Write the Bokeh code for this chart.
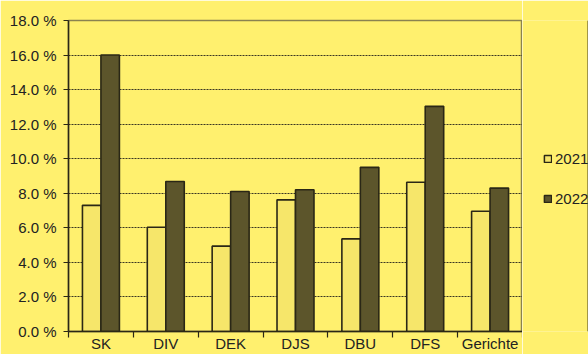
from bokeh.plotting import figure
from bokeh.layouts import row
from bokeh.models import ColumnDataSource, FixedTicker, PrintfTickFormatter, Range1d, Legend, LegendItem
from bokeh.embed import file_html
from bokeh.resources import INLINE

categories = ["SK", "DIV", "DEK", "DJS", "DBU", "DFS", "Gerichte"]
values_2021 = [7.3, 6.03, 4.94, 7.62, 5.36, 8.64, 6.96]
values_2022 = [16.0, 8.68, 8.1, 8.2, 9.5, 13.03, 8.3]
series_names = ["2021", "2022"]
y_ticks = [0, 2, 4, 6, 8, 10, 12, 14, 16, 18]

BG = "#FFF06E"
C2021 = "#F6E66A"
C2022 = "#5C552B"
EDGE = "#2A2716"
FONT = "Liberation Sans"

n = len(categories)
centers = [i + 0.5 for i in range(n)]
bw = 0.285

src = ColumnDataSource(dict(
    x1=[c - bw / 2 for c in centers],
    x2=[c + bw / 2 for c in centers],
    v1=values_2021,
    v2=values_2022,
))

p = figure(width=522, height=354, output_backend="svg", toolbar_location=None,
           x_range=Range1d(0, n), y_range=Range1d(0, 18),
           min_border_left=68, min_border_right=0, min_border_top=20, min_border_bottom=10)
p.background_fill_color = BG
p.border_fill_color = BG
p.outline_line_color = "#8A8250"
p.outline_line_width = 1.5

r1 = p.vbar(x="x1", top="v1", width=bw, bottom=0, source=src,
            fill_color=C2021, line_color=EDGE, line_width=1.6)
r2 = p.vbar(x="x2", top="v2", width=bw, bottom=0, source=src,
            fill_color=C2022, line_color=EDGE, line_width=1.6)

# y axis
p.yaxis.ticker = FixedTicker(ticks=y_ticks)
p.yaxis.formatter = PrintfTickFormatter(format="%.1f %%")
p.yaxis.axis_line_color = EDGE
p.yaxis.axis_line_width = 1.5
p.yaxis.major_tick_line_color = EDGE
p.yaxis.major_tick_out = 5
p.yaxis.major_tick_in = 0
p.yaxis.minor_tick_line_color = None
p.yaxis.major_label_standoff = 7
p.yaxis.major_label_text_font = FONT
p.yaxis.major_label_text_font_size = "15px"
p.yaxis.major_label_text_color = "#222222"

# x axis
p.xaxis.ticker = FixedTicker(ticks=centers, minor_ticks=list(range(n + 1)))
p.xaxis.major_label_overrides = {c: name for c, name in zip(centers, categories)}
p.xaxis.axis_line_color = EDGE
p.xaxis.axis_line_width = 1.5
p.xaxis.major_tick_line_color = None
p.xaxis.major_tick_out = 0
p.xaxis.major_tick_in = 0
p.xaxis.minor_tick_line_color = EDGE
p.xaxis.minor_tick_line_width = 1.2
p.xaxis.minor_tick_out = 6
p.xaxis.minor_tick_in = 0
p.xaxis.major_label_standoff = -3
p.xaxis.major_label_text_font = FONT
p.xaxis.major_label_text_font_size = "15px"
p.xaxis.major_label_text_color = "#222222"

p.xgrid.grid_line_color = None
p.ygrid.ticker = FixedTicker(ticks=y_ticks)
p.ygrid.grid_line_color = "#3A3622"
p.ygrid.grid_line_dash = "2 1"
p.ygrid.grid_line_width = 1

# legend panel
q = figure(width=66, height=354, output_backend="svg", toolbar_location=None,
           x_range=Range1d(0, 1), y_range=Range1d(0, 1),
           min_border_left=0, min_border_right=0, min_border_top=0, min_border_bottom=0)
q.axis.visible = False
q.grid.visible = False
q.outline_line_color = None
q.background_fill_color = BG
q.border_fill_color = BG
l1 = q.vbar(x=[5], top=[5], width=0.1, fill_color=C2021, line_color=EDGE, line_width=1.5)
l2 = q.vbar(x=[5], top=[5], width=0.1, fill_color=C2022, line_color=EDGE, line_width=1.5)

legend = Legend(items=[LegendItem(label=series_names[0], renderers=[l1]),
                       LegendItem(label=series_names[1], renderers=[l2])],
                location=(21, 124), orientation="vertical",
                background_fill_alpha=0, border_line_color=None,
                glyph_width=9, glyph_height=9, label_height=12, spacing=23,
                padding=0, margin=0, label_standoff=3,
                label_text_font=FONT, label_text_font_size="15px",
                label_text_color="#222222")
q.add_layout(legend, "center")

layout = row(p, q, spacing=0)
html = file_html(layout, INLINE)
html = html.replace("<body>", '<body style="background:%s;margin:0">' % BG, 1)
open("out.html", "w").write(html)
